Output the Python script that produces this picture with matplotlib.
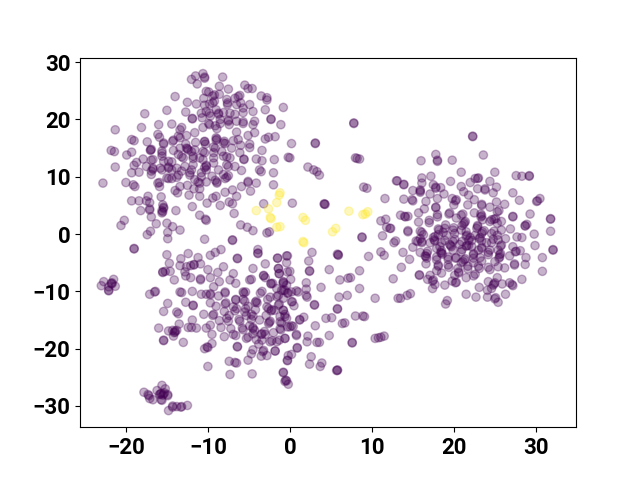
import matplotlib
matplotlib.use('Agg')
import matplotlib.pyplot as plt

# t-SNE embedding, values; repeated pairs are overlapping points
upper_left = [
    (-10.6,28.0),(-11.5,27.6),(-12.0,27.0),(-10.4,27.4),(-10.4,27.2),(-11.3,26.2),(-8.2,27.4),(-8.6,25.8),(-7.5,25.3),
    (-5.5,26.0),(-5.1,25.4),(-4.6,25.4),(-9.9,24.8),(-14.0,24.0),(-12.5,23.0),(-11.4,22.7),(-10.5,23.7),(-9.4,24.1),
    (-8.6,24.4),(-9.2,23.2),(-9.8,22.7),(-7.7,23.5),(-7.6,22.6),(-7.6,22.9),(-6.3,24.0),(-6.5,22.6),(-6.0,22.9),(-4.9,22.6),
    (-3.5,24.1),(-2.8,23.8),(-2.8,23.4),(-0.8,22.1),(-15.0,21.6),(-17.7,21.0),(-12.7,21.3),(-10.2,21.4),(-9.0,21.7),
    (-8.7,20.9),(-8.7,21.1),(-8.1,21.2),(-5.7,22.0),(-5.7,21.2),(-4.5,21.4),(-3.0,21.7),(-2.3,20.0),(-2.3,20.1),(-11.9,20.1),(-11.9,20.2),
    (-10.7,20.3),(-9.7,20.6),(-8.5,20.0),(-7.5,19.7),(-7.5,19.9),(-6.7,20.9),(-5.7,19.6),(-4.3,19.7),(-4.5,19.1),(-1.1,19.1),
    (-16.0,19.1),(-18.1,18.6),(-21.3,18.2),(-14.4,19.2),(-10.6,18.6),(-9.9,19.3),(-8.9,18.4),(-7.4,19.1),(-6.5,19.7),
    (-6.5,17.8),(-4.3,17.7),(-5.1,17.2),(-13.4,18.2),(-16.1,17.4),(-15.9,16.9),(-13.6,17.1),(-13.4,16.8),(-12.6,17.2),
    (-11.6,17.7),(-1.8,17.0),(-2.6,16.9),(-3.0,16.6),(-19.3,16.5),(-19.0,16.3),(-17.4,16.1),(-14.3,16.2),(-12.7,15.7),
    (-11.5,16.0),(-10.4,16.2),(-10.3,15.7),(-8.9,16.6),(-8.0,16.2),(-6.9,16.3),(-4.9,15.7),(-4.9,15.1),(-3.4,14.6),
    (-21.8,14.6),(-21.4,14.4),(-19.9,13.8),(-19.3,14.3),(-17.0,14.6),(-17.0,14.7),(-15.6,14.5),(-15.4,15.7),(-12.6,15.0),(-12.4,14.7),
    (-13.4,15.0),(-12.5,14.9),(-11.6,14.7),(-10.4,14.2),(-9.1,15.0),(-9.3,14.2),(-7.1,15.0),(-6.0,15.5),(-6.1,14.2),(-17.9,13.1),
    (-16.9,12.9),(-18.7,12.5),(-19.0,12.0),(-21.3,11.7),(-15.6,13.6),(-15.4,12.7),(-14.8,12.7),(-13.6,13.9),(-13.0,13.3),
    (-11.8,13.6),(-11.0,13.3),(-9.3,13.3),(-8.1,13.6),(-7.3,13.3),(-5.6,13.0),(-5.6,13.1),(-4.1,13.1),(-3.4,12.8),(-1.9,13.0),
    (-0.2,13.4),(-17.5,11.8),(-16.7,11.3),(-16.7,11.5),(-15.8,11.5),(-14.8,11.5),(-14.8,11.7),(-13.8,11.5),(-12.8,11.8),(-11.8,12.1),(-10.2,11.8),(-10.2,12.0),
    (-9.3,12.4),(-7.7,12.1),(-6.7,11.8),(-19.3,10.7),(-18.4,10.8),(-16.9,10.4),(-15.0,9.8),(-13.8,9.9),(-13.2,11.0),
    (-12.2,10.7),(-10.8,10.7),(-10.2,11.2),(-9.5,10.1),(-8.1,10.4),(-7.5,10.2),(-5.9,11.1),(-3.7,11.2),(-3.5,10.9),
    (-2.0,10.7),(-22.8,8.9),(-20.0,9.0),(-19.1,8.6),(-18.9,8.3),(-15.9,9.0),(-15.9,8.3),(-14.4,9.7),(-13.4,8.3),(-12.5,8.5),
    (-11.6,9.5),(-11.2,9.1),(-10.2,9.1),(-8.9,8.9),(-8.9,9.1),(-7.7,9.9),(-5.1,9.0),(-5.1,9.2),(-4.1,8.9),(-2.0,8.6),(-14.0,7.6),(-13.7,7.2),
    (-12.3,6.8),(-11.0,7.9),(-11.7,7.9),(-11.0,6.6),(-9.4,6.3),(-9.0,6.6),(-7.9,7.3),(-7.0,7.7),(-6.5,6.6),(-5.9,8.3),(-4.8,7.5),
    (-19.3,5.8),(-18.4,5.8),(-17.3,6.6),(-17.5,5.8),(-17.1,5.5),(-15.7,6.5),(-15.5,5.1),(-15.4,4.5),(-15.4,4.7),(-15.6,3.7),(-15.6,4.1),(-15.5,3.9),
    (-11.9,4.8),(-10.1,5.4),(-8.5,5.0),(-7.4,5.6),(-7.0,5.3),(-6.8,3.6),(-3.2,5.3),(-18.2,4.1),(-17.1,4.2),(-17.1,4.4),(-13.9,4.1),
    (-11.0,3.3),(-10.3,2.6),(-10.2,2.4),(-16.9,3.0),(-20.2,2.4),(-20.6,1.5),(-16.3,1.8),(-15.0,1.9),(-14.3,1.3),(-13.4,0.7),
    (-14.9,0.3),(-17.0,0.5),(-17.4,-0.1),(-14.9,-0.8),(-10.4,-0.9),(-7.0,-1.1),(-7.0,-1.0),(-6.0,1.6),(-5.2,1.2),(-4.5,0.6),(-2.8,0.2),(-2.5,0.4),
]
upper_left_dense = [
    (-13.2,18.6),(-9.1,18.9),(-15.4,15.9),(-14.2,16.4),(-9.0,16.8),(-8.1,15.9),(-16.9,14.8),(-15.6,14.1),(-14.2,14.6),
    (-12.0,14.4),(-10.6,14.4),(-9.3,15.2),(-8.3,14.4),(-16.7,13.0),(-14.4,12.6),(-13.2,13.5),(-11.8,13.2),(-10.6,13.0),(-7.7,13.5),(-16.9,11.0),
    (-15.6,11.2),(-14.4,11.2),(-12.0,11.2),(-10.4,11.6),(-8.7,11.2),(-7.5,11.8),(-14.8,9.7),(-13.6,10.3),(-12.2,10.3),(-10.8,10.0),(-9.1,9.4),(-7.9,9.7),
    (-16.1,8.9),(-11.0,8.9),(-10.2,24.9),(-9.2,24.3),(-6.7,23.7),(-6.1,24.2),(-10.4,22.5),(-9.4,22.9),(-10.8,21.1),(-9.8,21.1),
    (-7.3,21.1),(-9.8,19.1),(-8.5,19.3),(-5.7,19.3),(-10.4,16.1),(-9.0,16.4),(-7.9,15.8),(-6.3,16.5),
]
lower_left = [
    (-19.0,-2.5),(-19.0,-2.6),(-15.0,-3.6),(-13.3,-4.3),(-12.4,-3.4),(-11.2,-4.1),(-9.7,-3.7),(-9.1,-3.2),(-8.4,-2.7),(-6.4,-4.2),(-6.4,-4.3),
    (-3.9,-2.7),(-3.9,-3.3),(-3.9,-3.4),(-1.5,-4.2),(-0.4,-3.8),(-14.7,-5.1),(-13.4,-5.5),(-12.6,-5.7),(-12.1,-5.5),(-11.7,-5.3),(-11.7,-5.4),
    (-10.9,-5.2),(-10.0,-6.2),(-8.1,-5.7),(-8.8,-6.7),(-4.5,-6.0),(-3.0,-5.2),(-1.4,-6.0),(-1.3,-6.9),(-0.3,-6.6),(-15.5,-6.6),(-15.5,-6.7),
    (-15.2,-6.5),(-14.6,-6.5),(-12.8,-6.6),(-12.7,-7.3),(-12.1,-7.6),(-10.9,-8.0),(-10.9,-7.8),(-9.7,-7.6),(-6.9,-6.9),(-7.3,-8.0),(-6.6,-8.6),
    (-4.7,-7.9),(-4.9,-8.0),(-3.2,-7.2),(-3.2,-7.3),(-3.0,-7.6),(-2.3,-8.6),(-2.3,-8.7),(-0.8,-8.3),(-0.8,-8.4),(-0.4,-8.9),(-14.1,-8.0),
    (-21.5,-7.9),(-22.7,-8.3),(-23.0,-9.0),(-21.7,-8.5),(-21.8,-8.6),(-21.7,-8.7),(-21.3,-9.1),(-22.1,-9.9),(-22.1,-9.8),(-22.1,-9.2),
    (-8.6,-8.3),(-9.3,-9.2),(-7.9,-10.1),(-7.9,-10.3),(-5.7,-10.1),(-5.4,-10.1),(-3.4,-10.0),(-1.6,-9.5),(-0.8,-9.8),(-0.2,-10.3),
    (-17.1,-10.5),(-16.4,-10.0),(-16.5,-10.1),(-13.4,-10.1),(-13.2,-10.2),(-11.9,-10.0),(-10.8,-10.5),(-10.2,-10.5),(-9.7,-10.4),(-9.7,-10.6),
    (-8.7,-10.8),(-6.6,-11.4),(-6.6,-11.5),(-5.7,-11.4),(-4.1,-11.7),(-4.2,-11.9),(-2.7,-11.4),(-1.6,-10.9),(-0.8,-11.2),(-14.9,-12.1),(-12.7,-11.9),
    (-11.8,-12.4),(-11.8,-12.5),(-9.7,-12.0),(-7.8,-12.0),(-7.9,-12.2),(-6.9,-12.7),(-5.4,-13.0),(-6.5,-13.0),(-4.2,-13.2),(-2.8,-12.7),(-1.3,-12.2),
    (-15.4,-13.5),(-13.8,-13.6),(-13.6,-13.9),(-10.5,-14.0),(-9.3,-14.0),(-9.4,-14.2),(-7.4,-14.2),(-7.7,-14.7),(-5.5,-13.6),(-5.3,-14.2),(-4.5,-14.3),
    (-2.9,-14.2),(-2.2,-13.2),(-2.3,-13.4),(-1.9,-13.3),(-0.8,-13.3),(-11.9,-15.0),(-8.6,-15.1),(-7.5,-15.2),(-6.2,-14.9),(-4.7,-14.9),(-3.7,-15.0),
    (-2.4,-15.2),(-2.5,-15.4),(-1.2,-15.3),(-0.4,-14.7),(-13.5,-15.7),(-9.7,-15.9),(-7.2,-16.5),(-5.8,-16.4),(-4.5,-16.3),(-4.5,-16.5),(-4.3,-16.8),
    (-1.1,-16.7),(-0.3,-16.2),(-3.4,-17.4),(-3.5,-17.5),(-3.0,-17.5),(-16.0,-16.4),(-14.8,-16.9),(-14.3,-16.8),(-14.0,-17.1),(-14.1,-17.2),(-14.0,-16.9),
    (-13.8,-16.8),(-14.2,-17.8),(-12.4,-16.3),(-12.0,-16.3),(-11.4,-16.4),(-10.2,-16.4),(-9.5,-17.5),(-8.0,-17.9),(-6.6,-17.7),(-5.1,-18.0),(-4.5,-17.4),
    (-2.0,-17.2),(-1.3,-18.5),(-0.6,-18.2),(-2.4,-18.8),(-3.4,-18.5),(-15.4,-18.5),(-15.4,-18.6),(-13.0,-18.9),(-9.5,-19.1),(-10.1,-19.7),(-10.0,-19.8),
    (-10.4,-20.0),(-6.4,-19.6),(-6.4,-19.7),(-4.5,-20.2),(-4.7,-20.9),(-3.2,-20.3),(-3.3,-20.5),(-3.5,-21.3),(-2.8,-21.2),(-1.8,-20.4),(-0.2,-21.2),
    (-7.4,-22.2),(-6.7,-22.4),(-6.5,-22.5),(-5.1,-22.0),(-10.0,-23.1),(-0.3,-22.1),(-7.3,-24.5),(-4.6,-24.4),(-0.8,-24.1),(-0.8,-24.2),
    (-0.5,-25.5),(-0.6,-25.7),(-0.4,-25.6),(-0.2,-26.2),
    (-17.8,-27.6),(-17.3,-28.0),(-17.2,-28.2),(-17.1,-28.7),(-16.7,-28.9),(-16.2,-27.3),(-15.6,-26.4),(-15.2,-27.0),(-15.8,-27.9),(-15.9,-28.0),(-15.7,-27.8),
    (-15.4,-27.9),(-15.5,-28.1),(-15.3,-27.7),(-14.9,-28.0),(-14.9,-28.2),(-15.7,-28.9),(-15.6,-29.0),(-14.8,-30.8),(-14.3,-30.2),(-14.3,-30.0),(-13.8,-30.1),
    (-13.2,-30.1),(-13.3,-30.2),(-12.5,-29.9),
]
lower_dense = [
    (-5.6,-10.3),(-3.6,-10.3),(-1.4,-10.7),(0.2,-10.1),(-5.5,-11.7),(-4.0,-12.0),(-2.4,-11.0),(-1.4,-12.4),(0.2,-11.8),(-5.1,-12.6),(-2.6,-13.0),
    (-0.6,-14.0),(-6.7,-13.4),(-4.7,-14.0),(1.2,-14.9),(-6.1,-15.2),(-2.6,-15.6),(-1.0,-15.5),(0.2,-16.0),(-4.9,-16.0),(-5.7,-16.7),(-3.1,-17.0),
    (-1.2,-16.5),(-6.9,-17.5),(-5.3,-18.2),(-4.1,-18.4),(-2.2,-18.6),(-1.6,-18.8),(0.8,-17.7),(-8.0,-13.5),(-9.0,-12.6),(-8.4,-16.3),(-3.8,-19.2),
]
middle = [
    (7.8,19.3),(7.8,19.4),(0.2,15.8),(3.1,15.8),(3.1,15.9),(0.0,13.3),(8.0,13.3),(8.2,13.2),(8.5,13.1),(2.2,11.7),(2.9,11.2),(3.3,10.9),(3.6,10.3),
    (13.0,9.3),(9.0,8.2),(9.4,8.0),(0.3,5.4),(4.2,5.2),(4.2,5.3),(4.3,5.2),(11.6,6.2),(11.1,2.3),(11.7,2.6),(11.8,1.2),(12.2,1.0),(11.3,-0.3),(8.8,-0.5),(8.8,-0.6),
    (12.9,-1.2),(12.7,-1.5),(2.7,-3.2),(5.9,-3.6),(5.9,-3.7),(5.8,-3.5),(9.6,-3.9),(11.1,-3.1),(11.5,-3.7),(2.3,-4.7),(2.4,-6.4),(2.4,-6.5),(4.8,-6.2),(8.5,-6.4),
    (-1.5,-4.2),(-0.3,-3.8),(-0.4,-5.0),(-1.4,-6.0),(-1.3,-6.9),(0.0,-6.5),(0.1,-7.9),(-0.8,-8.6),(-2.1,-8.6),(-0.6,-9.8),(-1.0,-9.8),(-0.3,-10.3),
    (0.8,-9.9),(1.0,-10.1),(2.0,-8.5),(2.0,-9.6),(2.0,-10.7),(2.1,-11.0),(3.8,-9.3),(6.1,-8.0),(7.4,-7.6),(7.1,-7.7),(8.5,-9.5),(7.0,-10.7),(6.0,-11.0),
    (10.4,-11.2),(12.6,-7.8),(13.2,-11.2),(3.0,-12.3),(3.0,-12.4),(5.8,-13.0),(5.8,-13.1),(0.3,-11.8),(0.5,-12.5),(-0.8,-13.3),(-0.6,-14.4),(-1.2,-14.4),
    (1.7,-14.5),(1.2,-15.0),(3.1,-16.0),(4.4,-14.7),(5.1,-14.6),(8.0,-14.3),(8.9,-14.3),(9.1,-14.4),(6.4,-15.6),(6.7,-15.5),(0.0,-16.2),(0.4,-16.1),
    (0.8,-17.5),(4.8,-17.7),(2.2,-17.8),(2.1,-18.8),(3.3,-18.9),(3.6,-18.9),(7.6,-18.9),(7.6,-19.0),(10.4,-18.2),(10.8,-18.1),(11.1,-18.0),(11.5,-17.8),
    (-0.6,-18.2),(0.9,-19.8),(0.9,-19.9),(-1.8,-20.4),(0.2,-21.0),(-0.3,-22.0),(2.6,-21.4),(2.4,-22.7),(3.7,-23.1),(3.9,-22.5),(5.8,-23.8),(5.8,-23.7),(5.7,-23.8),
]
right = [
    (22.3,17.1),(22.3,17.0),(17.8,13.9),(23.6,13.8),(16.0,12.8),(18.0,12.9),(18.0,12.7),(19.8,12.9),(20.9,10.8),(25.0,10.8),(27.6,10.2),(28.3,10.1),(29.2,10.1),(29.2,10.2),
    (17.2,10.1),(16.1,9.8),(22.9,9.7),(23.0,9.8),(22.6,9.7),(13.1,9.3),(13.9,8.6),(13.9,8.7),(16.1,8.9),(19.6,9.2),(22.0,9.0),(24.4,9.2),(17.5,8.6),(15.0,7.6),
    (15.9,7.5),(15.9,7.3),(15.9,7.7),(17.8,8.0),(17.8,8.2),(18.4,8.1),(20.9,8.3),(22.9,7.9),(23.8,7.9),(23.8,7.7),(25.2,8.2),(18.8,7.0),(17.1,7.0),(21.2,7.4),
    (24.8,7.2),(27.2,7.2),(21.8,6.8),(20.3,6.0),(20.2,5.8),(18.0,6.2),(19.8,6.2),(13.9,6.1),(14.9,6.0),(15.0,5.8),(16.6,5.7),(22.5,6.0),(25.2,5.6),(26.2,5.2),
    (28.0,5.9),(30.2,5.8),(30.1,5.7),(30.5,6.2),(23.4,5.2),(23.4,5.0),(21.7,5.1),(20.0,5.1),(16.4,4.4),(17.8,4.7),(17.8,4.6),(24.4,4.7),(25.5,4.1),(25.3,3.9),
    (15.7,3.7),(19.4,3.5),(22.5,3.7),(29.3,3.5),(27.2,3.1),(27.2,3.0),(13.5,3.3),(14.0,3.1),(14.1,3.0),(14.4,3.1),(18.0,3.0),(20.9,3.3),(23.3,3.0),(23.4,3.2),
    (25.1,2.7),(24.9,2.6),(31.8,2.6),(31.8,2.7),(15.7,2.1),(17.0,2.0),(21.3,2.0),(21.2,1.8),(21.4,2.2),(24.4,2.2),(25.8,2.2),(22.9,1.3),(22.9,1.5),(28.7,1.5),(28.7,1.4),
    (28.9,1.7),(18.9,1.0),(20.0,1.1),(12.3,1.0),(26.9,0.9),(31.8,0.5),(14.4,0.4),(14.4,0.6),(15.9,0.5),(18.1,0.9),(18.2,0.7),(20.9,0.7),(23.5,0.4),(23.7,0.6),
    (25.8,0.7),(16.3,-0.1),(18.1,-0.1),(19.1,-0.2),(20.1,0.1),(21.6,-0.2),(21.5,-0.4),(24.6,0.1),(25.3,-0.2),(29.8,0.0),(15.4,-1.2),(15.6,-1.3),(16.1,-1.3),(16.1,-1.5),
    (17.6,-1.0),(17.7,-1.2),(18.9,-1.1),(20.1,-0.9),(22.2,-1.1),(23.2,-0.6),(23.1,-0.8),(24.8,-0.9),(26.3,-0.8),(27.7,-0.5),(28.3,-0.6),(15.0,-2.3),(17.1,-1.5),(18.3,-2.2),
    (19.5,-1.8),(19.6,-2.0),(20.7,-1.8),(21.6,-2.0),(21.5,-2.1),(21.8,-2.0),(21.8,-1.1),(23.4,-2.5),(23.4,-2.3),(24.0,-1.5),(25.8,-1.9),(25.7,-2.1),(29.9,-2.0),(32.1,-2.7),(32.1,-2.8),
    (27.2,-2.2),(27.6,-3.0),(27.5,-3.1),(28.1,-2.9),(13.8,-3.2),(15.9,-3.2),(16.8,-3.0),(18.5,-3.3),(18.6,-3.5),(18.4,-3.2),(19.9,-2.8),(20.9,-3.1),(22.4,-3.4),(22.4,-3.6),
    (24.2,-3.2),(25.7,-3.4),(25.6,-3.6),(14.6,-4.4),(16.5,-3.8),(16.6,-3.9),(17.9,-4.0),(19.3,-4.0),(20.3,-4.1),(20.2,-4.2),(21.3,-4.5),(21.4,-4.3),(23.2,-4.1),(25.6,-4.0),
    (25.5,-4.2),(26.8,-3.8),(28.8,-4.1),(30.8,-4.1),(16.6,-5.2),(18.1,-5.4),(19.4,-5.8),(20.9,-5.0),(22.4,-5.0),(24.2,-5.8),(25.0,-4.8),(26.2,-5.9),(27.4,-5.4),(27.4,-5.2),
    (28.7,-5.3),(13.6,-5.8),(17.9,-6.4),(18.5,-6.8),(20.6,-6.6),(20.6,-6.8),(21.7,-6.1),(23.1,-6.0),(30.8,-6.5),(15.8,-7.1),(15.8,-7.2),(21.5,-7.6),(22.4,-7.3),(25.3,-7.6),
    (28.3,-7.9),(16.8,-7.9),(17.4,-8.2),(17.5,-8.0),(17.7,-8.8),(19.8,-8.2),(20.3,-8.4),(20.2,-8.5),(18.9,-8.9),(24.2,-8.3),(24.9,-8.7),(24.8,-8.9),(25.0,-8.5),(25.9,-8.7),
    (26.8,-8.5),(27.2,-9.0),(27.1,-8.8),(17.4,-9.5),(23.1,-9.3),(24.1,-9.8),(24.6,-9.5),(26.3,-10.5),(14.7,-10.4),(14.3,-10.7),(13.5,-11.2),(21.5,-10.5),(22.7,-11.0),
    (24.1,-11.0),(25.1,-11.1),(25.0,-11.3),(25.4,-11.9),(19.2,-11.6),(19.0,-12.2),
]
right_dense = [
    (17.0,2.4),(18.0,3.4),(19.5,3.7),(20.3,2.8),(21.1,3.5),(21.0,1.5),(19.0,1.6),(23.3,3.5),(23.5,2.5),(22.8,1.0),(24.6,2.5),(25.3,1.9),(16.1,0.3),
    (17.7,-0.4),(18.7,0.3),(19.9,0.7),(21.5,0.4),(22.6,-0.2),(23.4,0.1),(24.9,0.5),(15.9,-0.8),(17.5,-0.6),(18.5,-1.5),(19.9,-1.3),(21.0,-1.3),
    (22.0,-0.6),(23.4,-1.2),(24.6,-1.5),(25.4,-1.0),(16.7,-3.4),(17.9,-2.5),(18.5,-2.9),(19.7,-2.2),(21.0,-2.7),(22.2,-2.2),(23.0,-2.8),(24.4,-2.8),
    (25.4,-2.8),(16.7,-4.2),(17.9,-4.5),(19.3,-4.4),(21.1,-4.8),(22.4,-4.2),(23.4,-4.7),(24.2,-3.6),(18.1,-5.6),(19.3,-5.4),(20.5,-6.0),(21.7,-5.6),
    (23.0,-5.6),(24.4,-6.2),(25.4,-5.7),(17.1,-7.2),(22.6,-7.0),(20.1,-7.2),
]
yellow = [
    (-1.2,7.2),(-1.3,6.8),(-1.6,5.5),(-4.1,4.1),(-2.6,4.4),(-2.4,2.9),(-2.3,2.7),(-1.6,1.2),(-1.2,1.3),(1.6,2.9),(1.9,2.4),
    (5.2,0.4),(5.6,1.0),(7.2,4.0),(8.9,3.4),(9.2,3.5),(9.5,3.9),(1.6,-1.3),(1.7,-1.5),
]

x_ticks = [-20, -10, 0, 10, 20, 30]
y_ticks = [-30, -20, -10, 0, 10, 20, 30]

purple = upper_left + upper_left_dense + lower_left + lower_dense + middle + right + right_dense
points = purple + yellow
x = [p[0] for p in points]
y = [p[1] for p in points]
labels = [0] * len(purple) + [1] * len(yellow)

plt.rcParams['font.family'] = ['Roboto', 'DejaVu Sans']
plt.rcParams['font.weight'] = 'bold'
plt.rcParams['font.size'] = 16

fig, ax = plt.subplots(figsize=(6.4, 4.8), dpi=100)
ax.scatter(x, y, c=labels, alpha=0.3)
ax.set_xlim(-25.6, 34.9)
ax.set_ylim(-33.7, 30.8)
ax.set_xticks(x_ticks)
ax.set_yticks(y_ticks)

fig.savefig('out.png', dpi=100)
